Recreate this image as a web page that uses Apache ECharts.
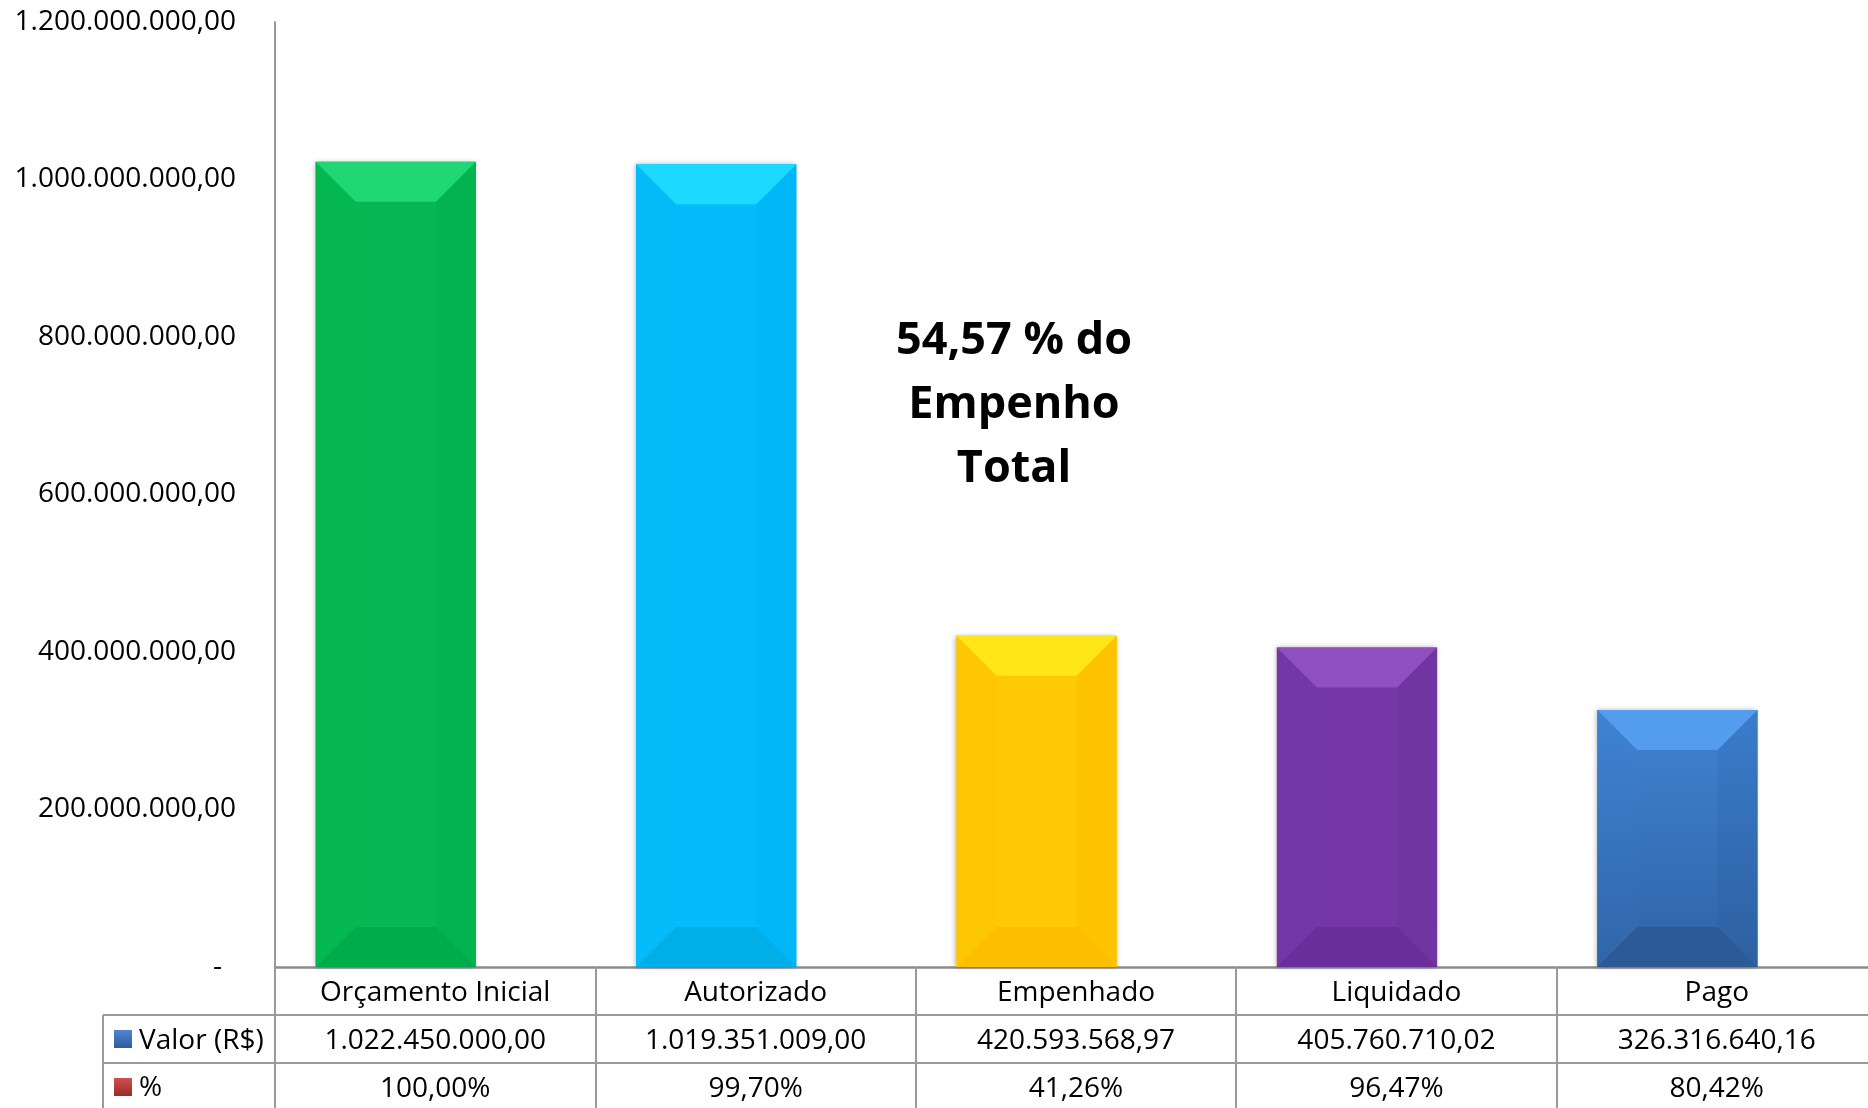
<!DOCTYPE html>
<html>
<head>
<meta charset="utf-8">
<script src="https://cdn.jsdelivr.net/npm/echarts@6/dist/echarts.min.js"></script>
<style>
html,body{margin:0;padding:0;background:#fff;}
#chart{width:1868px;height:1108px;}
</style>
</head>
<body>
<div id="chart"></div>
<script>
// ---- data ----
const categories = ['Orçamento Inicial', 'Autorizado', 'Empenhado', 'Liquidado', 'Pago'];
const valores = [1022450000.00, 1019351009.00, 420593568.97, 405760710.02, 326316640.16];
const percentuais = [100.00, 99.70, 41.26, 96.47, 80.42];
const rowHeaders = ['Valor (R$)', '%'];
const yTicks = { min: 0, max: 1200000000, interval: 200000000 };
const annotation = '54,57 % do\nEmpenho\nTotal';

// ---- styles ----
function vgrad(a, b) {
  return new echarts.graphic.LinearGradient(0, 0, 0, 1, [{offset: 0, color: a}, {offset: 1, color: b}]);
}
const palette = [
  {top: '#1fd873', mid: '#06b853', left: '#05b750', right: '#02b350', bottom: '#00ab4c'},
  {top: '#1cd9ff', mid: '#06bbfb', left: '#05baf9', right: '#02b7f8', bottom: '#00aee8'},
  {top: '#fee617', mid: '#ffc905', left: '#fec703', right: '#fec300', bottom: '#fdbe00'},
  {top: '#9050c0', mid: '#7537a5', left: '#7438a6', right: '#7135a2', bottom: '#6a2e9a'},
  {top: '#549cee', mid: vgrad('#4083d2', '#2f64a6'), left: vgrad('#3f83d4', '#3066a8'),
   right: vgrad('#3b7ccb', '#2d60a0'), bottom: '#2b5a96'}
];
const FONT = 'Open Sans';
const lineCol = '#9a9a9a';
const GRID_W = 1602;

function fmtNum(v) {
  const parts = v.toFixed(2).split('.');
  const intPart = parts[0].replace(/\B(?=(\d{3})+(?!\d))/g, '.');
  return intPart + ',' + parts[1];
}
function fmtPct(v) { return v.toFixed(2).replace('.', ',') + '%'; }

function renderBevel(params, api) {
  const idx = api.value(0);
  const val = api.value(1);
  const top = api.coord([idx, val]);
  const base = api.coord([idx, 0]);
  const band = api.size([1, 0])[0];
  const w = band * 0.5;
  const cx = top[0] - band * 0.123;
  const x0 = cx - w / 2, x1 = cx + w / 2;
  const y0 = top[1], y1 = base[1];
  const h = y1 - y0;
  const b = Math.min(40, h / 2, w / 2);
  const c = palette[idx];
  return {
    type: 'group',
    children: [
      {type: 'rect', shape: {x: x0, y: y0, width: w, height: h},
       style: {fill: c.mid, shadowBlur: 5, shadowColor: 'rgba(0,0,0,0.28)', shadowOffsetX: -1, shadowOffsetY: 0}},
      {type: 'polygon', shape: {points: [[x0, y0], [x0 + b, y0 + b], [x0 + b, y1 - b], [x0, y1]]}, style: {fill: c.left}},
      {type: 'polygon', shape: {points: [[x1, y0], [x1 - b, y0 + b], [x1 - b, y1 - b], [x1, y1]]}, style: {fill: c.right}},
      {type: 'polygon', shape: {points: [[x0, y0], [x1, y0], [x1 - b, y0 + b], [x0 + b, y0 + b]]}, style: {fill: c.top}},
      {type: 'polygon', shape: {points: [[x0, y1], [x1, y1], [x1 - b, y1 - b], [x0 + b, y1 - b]]}, style: {fill: c.bottom}}
    ]
  };
}

const chart = echarts.init(document.getElementById('chart'), null, {renderer: 'canvas'});

const labelBase = {fontFamily: FONT, fontSize: 28, color: '#000', interval: 0, verticalAlign: 'middle', margin: 26};
const gridBase = {left: 275, width: GRID_W, outerBoundsMode: 'none', containLabel: false};

const option = {
  animation: false,
  backgroundColor: '#fff',
  grid: [
    Object.assign({}, gridBase, {top: 22, height: 945}),
    Object.assign({}, gridBase, {top: 1014, height: 1}),
    Object.assign({}, gridBase, {top: 1062, height: 1})
  ],
  xAxis: [
    {type: 'category', gridIndex: 0, data: categories,
     axisLine: {lineStyle: {color: '#8c8c8c', width: 2.5}},
     axisTick: {show: true, length: 48, interval: 0, lineStyle: {color: lineCol, width: 2}},
     axisLabel: Object.assign({}, labelBase)},
    {type: 'category', gridIndex: 1, data: categories,
     axisLine: {lineStyle: {color: lineCol, width: 2}},
     axisTick: {show: true, length: 48, interval: 0, lineStyle: {color: lineCol, width: 2}},
     axisLabel: Object.assign({}, labelBase, {formatter: (v, i) => fmtNum(valores[i])})},
    {type: 'category', gridIndex: 2, data: categories,
     axisLine: {lineStyle: {color: lineCol, width: 2}},
     axisTick: {show: true, length: 60, interval: 0, lineStyle: {color: lineCol, width: 2}},
     axisLabel: Object.assign({}, labelBase, {formatter: (v, i) => fmtPct(percentuais[i])})}
  ],
  yAxis: [
    {type: 'value', gridIndex: 0, min: yTicks.min, max: yTicks.max, interval: yTicks.interval,
     axisLine: {show: true, lineStyle: {color: '#999', width: 2}},
     axisTick: {show: false},
     splitLine: {show: false},
     axisLabel: {fontFamily: FONT, fontSize: 28, color: '#000', margin: 39,
       formatter: v => v === 0 ? '{d|-}' : fmtNum(v),
       rich: {d: {fontFamily: FONT, fontSize: 28, color: '#000', padding: [0, 14, 0, 0]}}}},
    {type: 'value', gridIndex: 1, show: false},
    {type: 'value', gridIndex: 2, show: false}
  ],
  series: [
    {type: 'custom', name: 'Valor (R$)', xAxisIndex: 0, yAxisIndex: 0,
     renderItem: renderBevel,
     encode: {x: 0, y: 1},
     data: valores.map((v, i) => [i, v])}
  ],
  graphic: [
    // row header borders
    {type: 'line', shape: {x1: 103, y1: 1015, x2: 275, y2: 1015}, style: {stroke: lineCol, lineWidth: 2}},
    {type: 'line', shape: {x1: 103, y1: 1063, x2: 275, y2: 1063}, style: {stroke: lineCol, lineWidth: 2}},
    {type: 'line', shape: {x1: 103, y1: 1015, x2: 103, y2: 1108}, style: {stroke: lineCol, lineWidth: 2}},
    // legend icons
    {type: 'rect', shape: {x: 114, y: 1030, width: 18, height: 18},
     style: {fill: vgrad('#4f87cf', '#2d5c9c')}},
    {type: 'rect', shape: {x: 114, y: 1078, width: 18, height: 18},
     style: {fill: vgrad('#d0504c', '#9a2b28')}},
    {type: 'text', x: 139, y: 1041, style: {text: rowHeaders[0], font: '28px "' + FONT + '"', fill: '#000', textVerticalAlign: 'middle', textAlign: 'left'}},
    {type: 'text', x: 139, y: 1088, style: {text: rowHeaders[1], font: '28px "' + FONT + '"', fill: '#000', textVerticalAlign: 'middle', textAlign: 'left'}},
    // annotation
    {type: 'text', x: 1014, y: 405, style: {text: annotation, font: 'bold 45px "' + FONT + '"', fill: '#000',
      textAlign: 'center', textVerticalAlign: 'middle', lineHeight: 64}}
  ]
};
chart.setOption(option);
</script>
</body>
</html>
